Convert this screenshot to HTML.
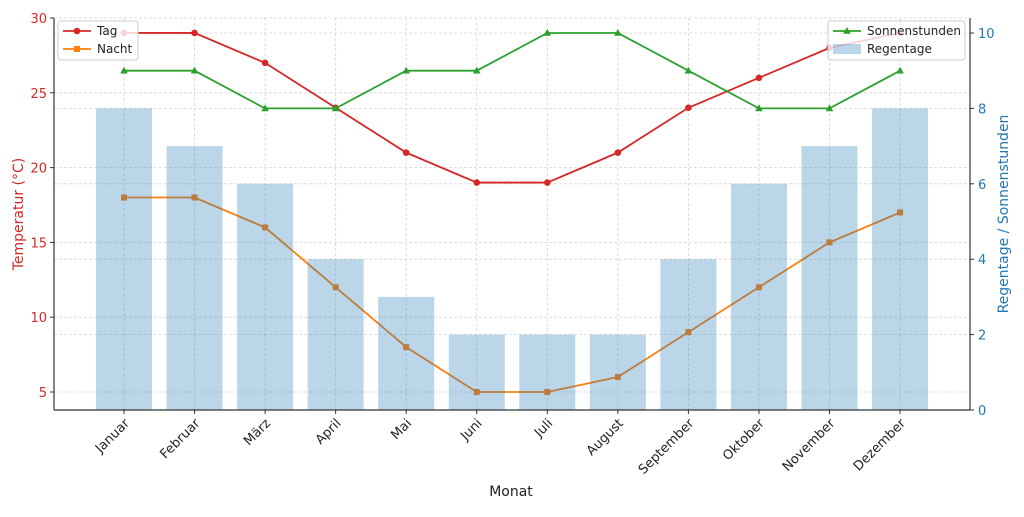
<!DOCTYPE html>
<html><head><meta charset="utf-8"><style>
body{margin:0;background:#fff;}
svg text{font-family:"DejaVu Sans","Liberation Sans",sans-serif;}
</style></head><body>
<svg id="c" width="1024" height="512" xmlns="http://www.w3.org/2000/svg"></svg>
<script>
const months=["Januar","Februar","März","April","Mai","Juni","Juli","August","September","Oktober","November","Dezember"];
const tag=[29,29,27,24,21,19,19,21,24,26,28,29];
const nacht=[18,18,16,12,8,5,5,6,9,12,15,17];
const sonne=[9,9,8,8,9,9,10,10,9,8,8,9];
const regen=[8,7,6,4,3,2,2,2,4,6,7,8];
const leftTicks=[5,10,15,20,25,30];
const rightTicks=[0,2,4,6,8,10];
const L=54,R=970,T=18,B=410;
const xS=i=>124+i*70.55;
const yL=v=>392-(v-5)*14.96;
const yR=v=>410-v*37.7;
const svg=document.getElementById('c');
const NS="http://www.w3.org/2000/svg";
function el(t,a,p){const e=document.createElementNS(NS,t);for(const k in a)e.setAttribute(k,a[k]);(p||svg).appendChild(e);return e;}
// grid
leftTicks.forEach(v=>{const g=el('line',{x1:L,x2:R,y1:yL(v),y2:yL(v),stroke:'#d5d5d5','stroke-dasharray':'3,2','stroke-width':0.8});

});
rightTicks.forEach(v=>{const g=el('line',{x1:L,x2:R,y1:yR(v),y2:yR(v),stroke:'#d5d5d5','stroke-dasharray':'3,2','stroke-width':0.8});

});
months.forEach((m,i)=>{const g=el('line',{x1:xS(i),x2:xS(i),y1:T,y2:B,stroke:'#d5d5d5','stroke-dasharray':'3,2','stroke-width':0.8});

});
function line(arr,ys,color,marker,name){
 const p=el('polyline',{points:arr.map((v,i)=>xS(i)+','+ys(v)).join(' '),fill:'none',stroke:color,'stroke-width':1.8});
 
 
 arr.forEach((v,i)=>{let m;
  if(marker==='o')m=el('circle',{cx:xS(i),cy:ys(v),r:3.3,fill:color});
  else if(marker==='s')m=el('rect',{x:xS(i)-3,y:ys(v)-3,width:6,height:6,fill:color});
  else m=el('polygon',{points:`${xS(i)},${ys(v)-4} ${xS(i)-3.8},${ys(v)+2.8} ${xS(i)+3.8},${ys(v)+2.8}`,fill:color});
  
  });
}
line(tag,yL,'#d62728','o','tag');
line(nacht,yL,'#ff7f0e','s','nacht');
regen.forEach((v,i)=>{const b=el('rect',{x:xS(i)-28,y:yR(v),width:56,height:B-yR(v),fill:'#1f77b4','fill-opacity':0.3});

});
line(sonne,yR,'#2ca02c','^','sonnenstunden');
// axes
el('line',{x1:L,x2:L,y1:T,y2:B,stroke:'#333','stroke-width':1.2});
el('line',{x1:R,x2:R,y1:T,y2:B,stroke:'#333','stroke-width':1.2});
el('line',{x1:L,x2:R,y1:B,y2:B,stroke:'#333','stroke-width':1.2});
leftTicks.forEach(v=>{el('line',{x1:L-4,x2:L,y1:yL(v),y2:yL(v),stroke:'#333'});
const t=el('text',{x:L-7,y:yL(v)+5,'text-anchor':'end','font-size':13,fill:'#d62728'});t.textContent=v;

});
rightTicks.forEach(v=>{el('line',{x1:R,x2:R+4,y1:yR(v),y2:yR(v),stroke:'#333'});
const t=el('text',{x:R+8,y:yR(v)+5,'font-size':13,fill:'#1f77b4'});t.textContent=v;

});
months.forEach((m,i)=>{el('line',{x1:xS(i),x2:xS(i),y1:B,y2:B+4,stroke:'#333'});
const t=el('text',{x:0,y:0,'text-anchor':'end','font-size':13,fill:'#222',transform:`translate(${xS(i)+6},${B+14}) rotate(-45)`});t.textContent=m;

});
</script>
<svg width="1024" height="512" style="position:absolute;left:0;top:0" xmlns="http://www.w3.org/2000/svg">
<text x="511" y="496" text-anchor="middle" font-size="14" fill="#222">Monat</text>
<text transform="translate(23,214) rotate(-90)" text-anchor="middle" font-size="14" fill="#d62728">Temperatur (°C)</text>
<text transform="translate(1008,214) rotate(-90)" text-anchor="middle" font-size="14" fill="#1f77b4">Regentage / Sonnenstunden</text>
<g>
<rect x="58" y="21" width="80" height="39" rx="3" fill="#fff" fill-opacity="0.8" stroke="#ccc"/>
<g><line x1="63" x2="91" y1="31" y2="31" stroke="#d62728" stroke-width="1.8"/><circle cx="77" cy="31" r="3.3" fill="#d62728"/><text x="97" y="35" font-size="12" fill="#222">Tag</text></g>
<g><line x1="63" x2="91" y1="49" y2="49" stroke="#ff7f0e" stroke-width="1.8"/><rect x="74" y="46" width="6" height="6" fill="#ff7f0e"/><text x="97" y="53" font-size="12" fill="#222">Nacht</text></g>
</g>
<g>
<rect x="828" y="21" width="137" height="39" rx="3" fill="#fff" fill-opacity="0.8" stroke="#ccc"/>
<g><line x1="833" x2="861" y1="31" y2="31" stroke="#2ca02c" stroke-width="1.8"/><polygon points="847,27 843.2,33.8 850.8,33.8" fill="#2ca02c"/><text x="867" y="35" font-size="12" fill="#222">Sonnenstunden</text></g>
<g><rect x="833" y="44" width="28" height="10" fill="#1f77b4" fill-opacity="0.3"/><text x="867" y="53" font-size="12" fill="#222">Regentage</text></g>
</g>
</svg>
</body></html>
